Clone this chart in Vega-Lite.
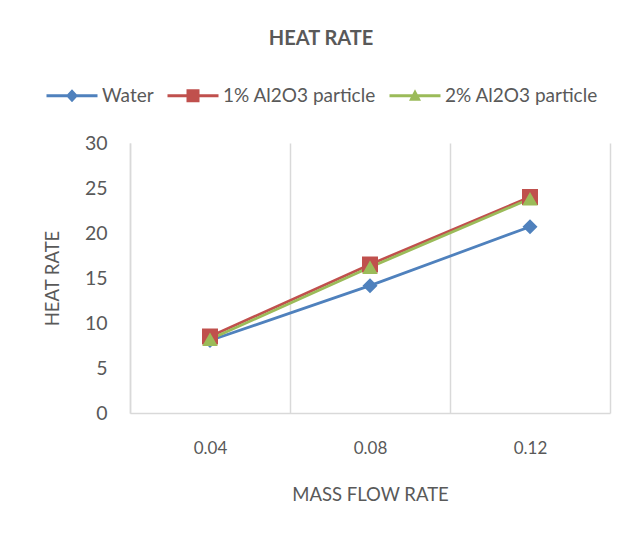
{
  "$schema": "https://vega.github.io/schema/vega-lite/v6.json",
  "width": 480,
  "height": 270,
  "autosize": "none",
  "padding": {"left": 130, "top": 143, "right": 21, "bottom": 123},
  "background": "white",
  "config": {"view": {"stroke": null}, "font": "Lato"},
  "title": {"text": "HEAT RATE", "fontSize": 20, "fontWeight": "bold", "color": "#595959", "font": "Lato", "anchor": "middle", "dx": -49, "offset": 37},
  "data": {"values": [
    {"flow": "0.04", "heat": 8.05, "series": "Water"},
    {"flow": "0.08", "heat": 14.15, "series": "Water"},
    {"flow": "0.12", "heat": 20.7, "series": "Water"},
    {"flow": "0.04", "heat": 8.5, "series": "1% Al2O3 particle"},
    {"flow": "0.08", "heat": 16.5, "series": "1% Al2O3 particle"},
    {"flow": "0.12", "heat": 24.0, "series": "1% Al2O3 particle"},
    {"flow": "0.04", "heat": 8.2, "series": "2% Al2O3 particle"},
    {"flow": "0.08", "heat": 16.2, "series": "2% Al2O3 particle"},
    {"flow": "0.12", "heat": 23.8, "series": "2% Al2O3 particle"}
  ]},
  "encoding": {
    "x": {
      "field": "flow", "type": "ordinal",
      "scale": {"paddingInner": 0, "paddingOuter": 0},
      "axis": {
        "title": "MASS FLOW RATE", "titleFontSize": 18.5, "titleFontWeight": "normal", "titleColor": "#595959", "titleFont": "Lato", "titlePadding": 29,
        "labelFontSize": 17, "labelColor": "#595959", "labelFont": "Lato", "labelPadding": 27, "labelAngle": 0,
        "ticks": false, "tickBand": "extent", "grid": true, "gridColor": "#D9D9D9", "gridWidth": 1.5,
        "domainColor": "#D9D9D9", "domainWidth": 1.5
      }
    },
    "y": {
      "field": "heat", "type": "quantitative",
      "scale": {"domain": [0, 30]},
      "axis": {
        "title": "HEAT RATE", "titleFontSize": 18.5, "titleFontWeight": "normal", "titleColor": "#595959", "titleFont": "Lato", "titlePadding": 22,
        "values": [0, 5, 10, 15, 20, 25, 30],
        "labelFontSize": 19.5, "labelColor": "#595959", "labelFont": "Lato", "labelPadding": 23,
        "ticks": false, "grid": false, "domainColor": "#D9D9D9", "domainWidth": 1.5
      }
    },
    "color": {"field": "series", "type": "nominal",
      "scale": {"domain": ["Water", "1% Al2O3 particle", "2% Al2O3 particle"], "range": ["#4F81BD", "#C0504D", "#9BBB59"]},
      "legend": {
        "title": null, "orient": "none", "direction": "horizontal", "columns": 3,
        "legendX": -88, "legendY": -57, "padding": 0, "columnPadding": 9,
        "labelFontSize": 19, "labelColor": "#595959", "labelFont": "Lato", "labelOffset": 41,
        "symbolSize": 100, "symbolStrokeWidth": 0, "symbolOpacity": 1
      }
    }
  },
  "layer": [
    {
      "mark": {"type": "point", "filled": true, "opacity": 0},
      "encoding": {
        "shape": {"field": "series", "type": "nominal",
          "legend": {
            "title": null, "orient": "none", "direction": "horizontal", "columns": 3,
            "legendX": -88, "legendY": -57, "padding": 0, "columnPadding": 9,
            "labelFontSize": 19, "labelColor": "#595959", "labelFont": "Lato", "labelOffset": 41,
            "symbolSize": 100, "symbolStrokeWidth": 0, "symbolOpacity": 1
          },
          "scale": {"domain": ["Water", "1% Al2O3 particle", "2% Al2O3 particle"],
            "range": [
              "M-1,-0.3L9.2,-0.3L9.2,0.3L-1,0.3Z M4.1,-1.3L5.3,0L4.1,1.3L2.9,0Z",
              "M-1,-0.3L9.2,-0.3L9.2,0.3L-1,0.3Z M2.8,-1.3L5.4,-1.3L5.4,1.3L2.8,1.3Z",
              "M-1,-0.3L9.2,-0.3L9.2,0.3L-1,0.3Z M4.1,-1.3L5.3,1.0L2.9,1.0Z"
            ]}}
      }
    },
    {"mark": {"type": "line", "strokeWidth": 2.75}},
    {
      "transform": [{"filter": "datum.series === 'Water'"}],
      "mark": {"type": "point", "filled": true, "opacity": 1, "size": 225, "shape": "diamond"}
    },
    {
      "transform": [{"filter": "datum.series === '1% Al2O3 particle'"}],
      "mark": {"type": "point", "filled": true, "opacity": 1, "size": 256, "shape": "square"}
    },
    {
      "transform": [{"filter": "datum.series === '2% Al2O3 particle'"}],
      "mark": {"type": "point", "filled": true, "opacity": 1, "size": 240, "shape": "triangle-up"}
    }
  ]
}
